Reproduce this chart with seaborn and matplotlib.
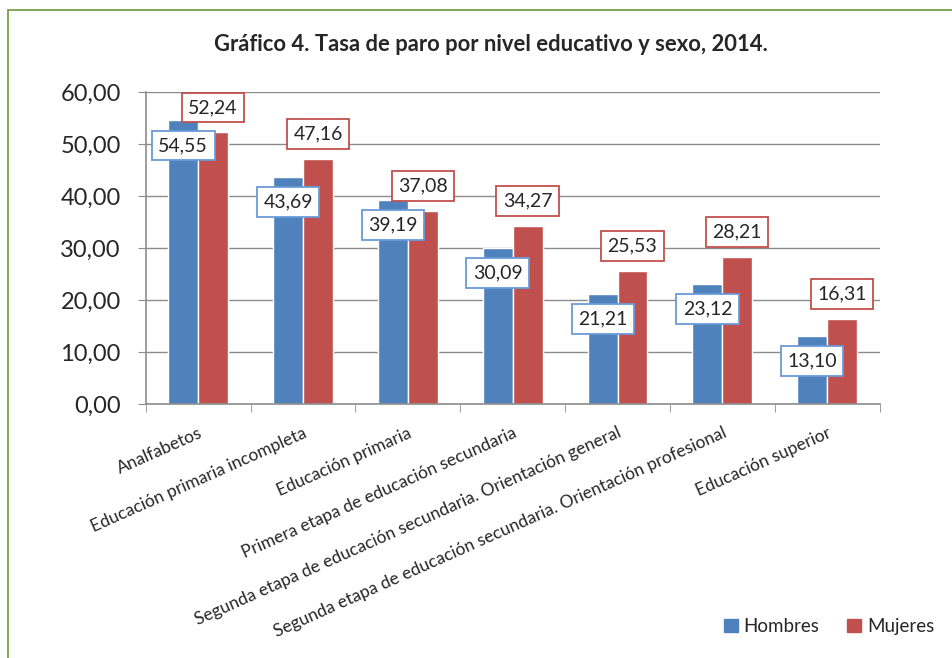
import pandas as pd
import matplotlib.pyplot as plt
import matplotlib.patches as mpatches
import seaborn as sns

# Datos del gráfico
niveles = [
    'Analfabetos',
    'Educación primaria incompleta',
    'Educación primaria',
    'Primera etapa de educación secundaria',
    'Segunda etapa de educación secundaria. Orientación general',
    'Segunda etapa de educación secundaria. Orientación profesional',
    'Educación superior',
]
hombres = [54.55, 43.69, 39.19, 30.09, 21.21, 23.12, 13.10]
mujeres = [52.24, 47.16, 37.08, 34.27, 25.53, 28.21, 16.31]
series = ['Hombres', 'Mujeres']
colores = ['#4F81BD', '#C0504D']

df = pd.DataFrame({
    'nivel': niveles * 2,
    'sexo': ['Hombres'] * len(niveles) + ['Mujeres'] * len(niveles),
    'tasa': hombres + mujeres,
})

sns.set_style('white')
plt.rcParams['font.family'] = ['Lato', 'DejaVu Sans']

fig = plt.figure(figsize=(9.53, 6.58), dpi=100)
ax = fig.add_axes([0.153, 0.386, 0.770, 0.474])

sns.barplot(data=df, x='nivel', y='tasa', hue='sexo', order=niveles,
            hue_order=series, palette=colores, width=0.57, saturation=1,
            ax=ax, legend=False)

# Etiquetas de valores con recuadro
for bars, edge, dy in zip(ax.containers, ['#6A9BD8', '#C0504D'], [-18, 18]):
    for bar in bars:
        v = bar.get_height()
        ax.annotate(f'{v:.2f}'.replace('.', ','),
                    (bar.get_x() + bar.get_width() / 2, v),
                    xytext=(0, dy), textcoords='offset points',
                    ha='center', va='center', fontsize=14, zorder=5,
                    bbox=dict(boxstyle='square,pad=0.33', fc='white', ec=edge, lw=1.3))

ax.set_ylim(0, 60)
ax.set_xlim(-0.5, len(niveles) - 0.5)
ax.set_yticks(range(0, 61, 10))
ax.set_yticklabels([f'{t:.2f}'.replace('.', ',') for t in range(0, 61, 10)], fontsize=17)
ax.yaxis.grid(True, color='#8C8C8C', lw=1)
ax.set_axisbelow(True)
ax.tick_params(axis='y', left=True, length=6, color='#8C8C8C', pad=12)

ax.set_xticks(range(len(niveles)))
ax.set_xticklabels(niveles, rotation=24, ha='right', rotation_mode='anchor', fontsize=12.5)
ax.tick_params(axis='x', length=0, pad=15)
ax.set_xticks([i - 0.5 for i in range(len(niveles) + 1)], minor=True)
ax.tick_params(axis='x', which='minor', bottom=True, length=6, color='#8C8C8C')

for s in ['top', 'right']:
    ax.spines[s].set_visible(False)
for s in ['left', 'bottom']:
    ax.spines[s].set_color('#8C8C8C')
    ax.spines[s].set_linewidth(1.2)
ax.set_xlabel('')
ax.set_ylabel('')

fig.text(0.515, 0.932, 'Gráfico 4. Tasa de paro por nivel educativo y sexo, 2014.',
         ha='center', va='center', fontsize=15.8, fontweight='bold')

handles = [mpatches.Patch(color=c, label=s) for c, s in zip(colores, series)]
fig.legend(handles=handles, loc='center right', bbox_to_anchor=(0.998, 0.048),
           ncol=2, frameon=False, fontsize=13.5, handlelength=0.75, handleheight=0.75,
           handletextpad=0.3, columnspacing=1.5)

# Borde verde del gráfico
fig.patches.append(mpatches.Rectangle((0.0085, -0.05), 1.1, 1.035, transform=fig.transFigure,
                                      fill=False, ec='#77A04A', lw=1.3))

plt.savefig('out.png', dpi=100)
